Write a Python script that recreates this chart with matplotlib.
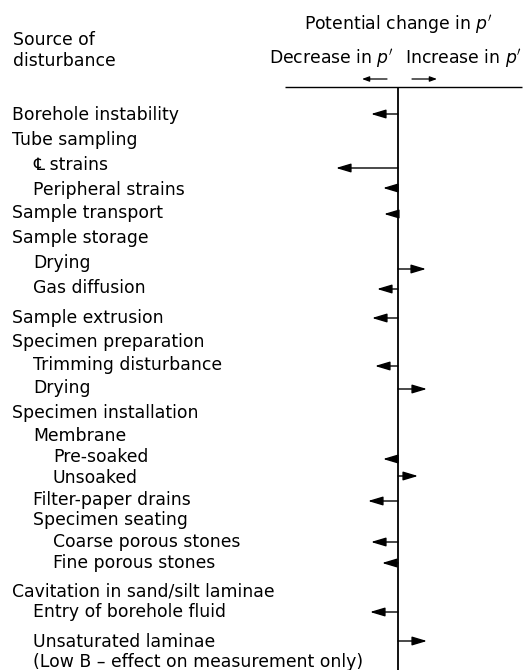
import matplotlib
matplotlib.use("Agg")
import matplotlib.pyplot as plt

plt.rcParams['font.family'] = ['DejaVu Sans', 'Noto Sans', 'Noto Sans CJK SC']
plt.rcParams['mathtext.fontset'] = 'dejavusans'

# ---------------- data ----------------
labels = [
    "Borehole instability",
    "Tube sampling",
    "\u2104 strains",
    "Peripheral strains",
    "Sample transport",
    "Sample storage",
    "Drying",
    "Gas diffusion",
    "Sample extrusion",
    "Specimen preparation",
    "Trimming disturbance",
    "Drying",
    "Specimen installation",
    "Membrane",
    "Pre-soaked",
    "Unsoaked",
    "Filter-paper drains",
    "Specimen seating",
    "Coarse porous stones",
    "Fine porous stones",
    "Cavitation in sand/silt laminae",
    "Entry of borehole fluid",
    "Unsaturated laminae",
    "(Low B \u2013 effect on measurement only)",
]
levels = [0, 0, 1, 1, 0, 0, 1, 1, 0, 0, 1, 1, 0, 1, 2, 2, 1, 1, 2, 2, 0, 1, 1, 1]

# rows carrying an arrow and the potential change in p' (negative = decrease)
arrow_rows = [0, 2, 3, 4, 6, 7, 8, 10, 11, 14, 15, 16, 18, 19, 21, 22]
change_p = [-27, -62, -15, -14, 28, -21, -26, -23, 29, -15, 20, -30, -27, -16, -28, 29]

# ---------------- layout ----------------
W, H = 527, 670
AXIS_X = 398
label_base_y = [120, 145, 170, 195, 218, 243, 268, 293, 323, 347, 370, 393,
                418, 441, 462, 483, 505, 525, 547, 568, 596, 617, 647, 667]
arrow_y = [114, 168, 188, 214, 269, 289, 318, 366, 389, 459, 476, 501, 542, 563, 612, 641]
indent = {0: 12, 1: 33, 2: 53}
FS = 12.4

fig = plt.figure(figsize=(W / 100, H / 100), dpi=100)
ax = fig.add_axes([0, 0, 1, 1])
ax.set_xlim(-AXIS_X, W - AXIS_X)
ax.set_ylim(H, 0)
ax.axis('off')

def px(x):
    return x - AXIS_X

# header texts
ax.text(px(13), 45, "Source of", fontsize=FS, va='baseline', ha='left')
ax.text(px(13), 66, "disturbance", fontsize=FS, va='baseline', ha='left')
ax.text(px(398), 30, r"Potential change in $p'$", fontsize=FS, va='baseline', ha='center')
ax.text(px(394), 63, r"Decrease in $p'$", fontsize=FS, va='baseline', ha='right')
ax.text(px(405), 63, r"Increase in $p'$", fontsize=FS, va='baseline', ha='left')

# small direction arrows in header
small = dict(arrowstyle='-|>,head_length=0.6,head_width=0.22', lw=0.9, color='black',
             shrinkA=0, shrinkB=0, mutation_scale=7)
ax.annotate('', xy=(px(362), 79), xytext=(px(387), 79), arrowprops=small)
ax.annotate('', xy=(px(437), 79), xytext=(px(412), 79), arrowprops=small)

# axis lines
ax.plot([px(285), px(522)], [87, 87], color='black', lw=1.0, solid_capstyle='butt')
ax.plot([0, 0], [87, H], color='black', lw=1.3, solid_capstyle='butt')

# row labels
for lab, lev, yb in zip(labels, levels, label_base_y):
    ax.text(px(indent[lev]), yb, lab, fontsize=FS, va='baseline', ha='left')

# arrows
big = dict(arrowstyle='-|>,head_length=0.9,head_width=0.27', lw=1.0, color='black',
           shrinkA=0, shrinkB=0, mutation_scale=10)
for v, y in zip(change_p, arrow_y):
    ax.annotate('', xy=(v, y), xytext=(0, y), arrowprops=big)

fig.savefig("out.png", dpi=100, facecolor='white')
